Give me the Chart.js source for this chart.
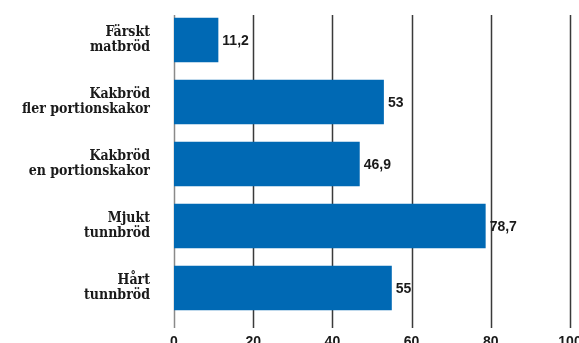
<!DOCTYPE html>
<html>
<head>
<meta charset="utf-8">
<script src="https://cdn.jsdelivr.net/npm/chart.js@4.4.1/dist/chart.umd.min.js"></script>
<style>
  html, body { margin: 0; padding: 0; background: #fff; }
  #wrap { width: 579px; height: 343px; }
</style>
</head>
<body>
<div id="wrap"><canvas id="bread"></canvas></div>
<script>
const categories = [
  ['Färskt', 'matbröd'],
  ['Kakbröd', 'fler portionskakor'],
  ['Kakbröd', 'en portionskakor'],
  ['Mjukt', 'tunnbröd'],
  ['Hårt', 'tunnbröd']
];
const values = [11.2, 53, 46.9, 78.7, 55];
const xTicks = [0, 20, 40, 60, 80, 100];

const blue = '#0069b4';

// vertical grid lines, drawn behind the bars and running past the plot area
const gridLines = {
  id: 'gridLines',
  beforeDatasetsDraw(chart) {
    const { ctx, chartArea, scales } = chart;
    ctx.save();
    xTicks.forEach(t => {
      const x = Math.round(scales.x.getPixelForValue(t)) + 0.5;
      ctx.strokeStyle = t === 0 ? '#8a8a8a' : '#3a3a3a';
      ctx.lineWidth = 1.5;
      ctx.beginPath();
      ctx.moveTo(x, chartArea.top + 6);
      ctx.lineTo(x, chartArea.bottom + 9);
      ctx.stroke();
    });
    ctx.restore();
  }
};

// value printed at the end of each bar, Swedish decimal comma
// plus the x tick numbers under the plot
const barValues = {
  id: 'barValues',
  afterDatasetsDraw(chart) {
    const { ctx, chartArea, scales } = chart;
    const meta = chart.getDatasetMeta(0);
    ctx.save();
    ctx.font = 'bold 14px "Liberation Sans", Arial, sans-serif';
    ctx.fillStyle = '#1a1a1a';
    ctx.textBaseline = 'middle';
    meta.data.forEach((bar, i) => {
      const label = String(values[i]).replace('.', ',');
      ctx.fillText(label, bar.x + 4, bar.y + 1);
    });
    ctx.textAlign = 'center';
    ctx.textBaseline = 'alphabetic';
    xTicks.forEach(t => {
      ctx.fillText(String(t), scales.x.getPixelForValue(t), chartArea.bottom + 27);
    });
    ctx.restore();
  }
};

new Chart(document.getElementById('bread'), {
  type: 'bar',
  data: {
    labels: categories,
    datasets: [{
      data: values,
      backgroundColor: blue,
      borderWidth: 0,
      barPercentage: 0.8,
      categoryPercentage: 0.9
    }]
  },
  options: {
    indexAxis: 'y',
    responsive: true,
    maintainAspectRatio: false,
    animation: false,
    layout: { padding: { top: 9, right: 9, left: 0, bottom: 0 } },
    plugins: {
      legend: { display: false },
      tooltip: { enabled: false }
    },
    scales: {
      x: {
        min: 0,
        max: 100,
        border: { display: false },
        grid: { display: false },
        ticks: { display: false },
        afterFit: s => { s.height = 24; s.paddingLeft = 0; s.paddingRight = 0; }
      },
      y: {
        border: { display: false },
        grid: { display: false },
        ticks: {
          font: { family: 'DejaVu Serif Condensed, DejaVu Serif, serif', size: 14, weight: 'bold', lineHeight: 1.12 },
          color: '#1a1a1a',
          padding: 16
        },
        afterFit: s => { s.width = 174; s.paddingTop = 0; s.paddingBottom = 0; }
      }
    }
  },
  plugins: [gridLines, barValues]
});
</script>
</body>
</html>
